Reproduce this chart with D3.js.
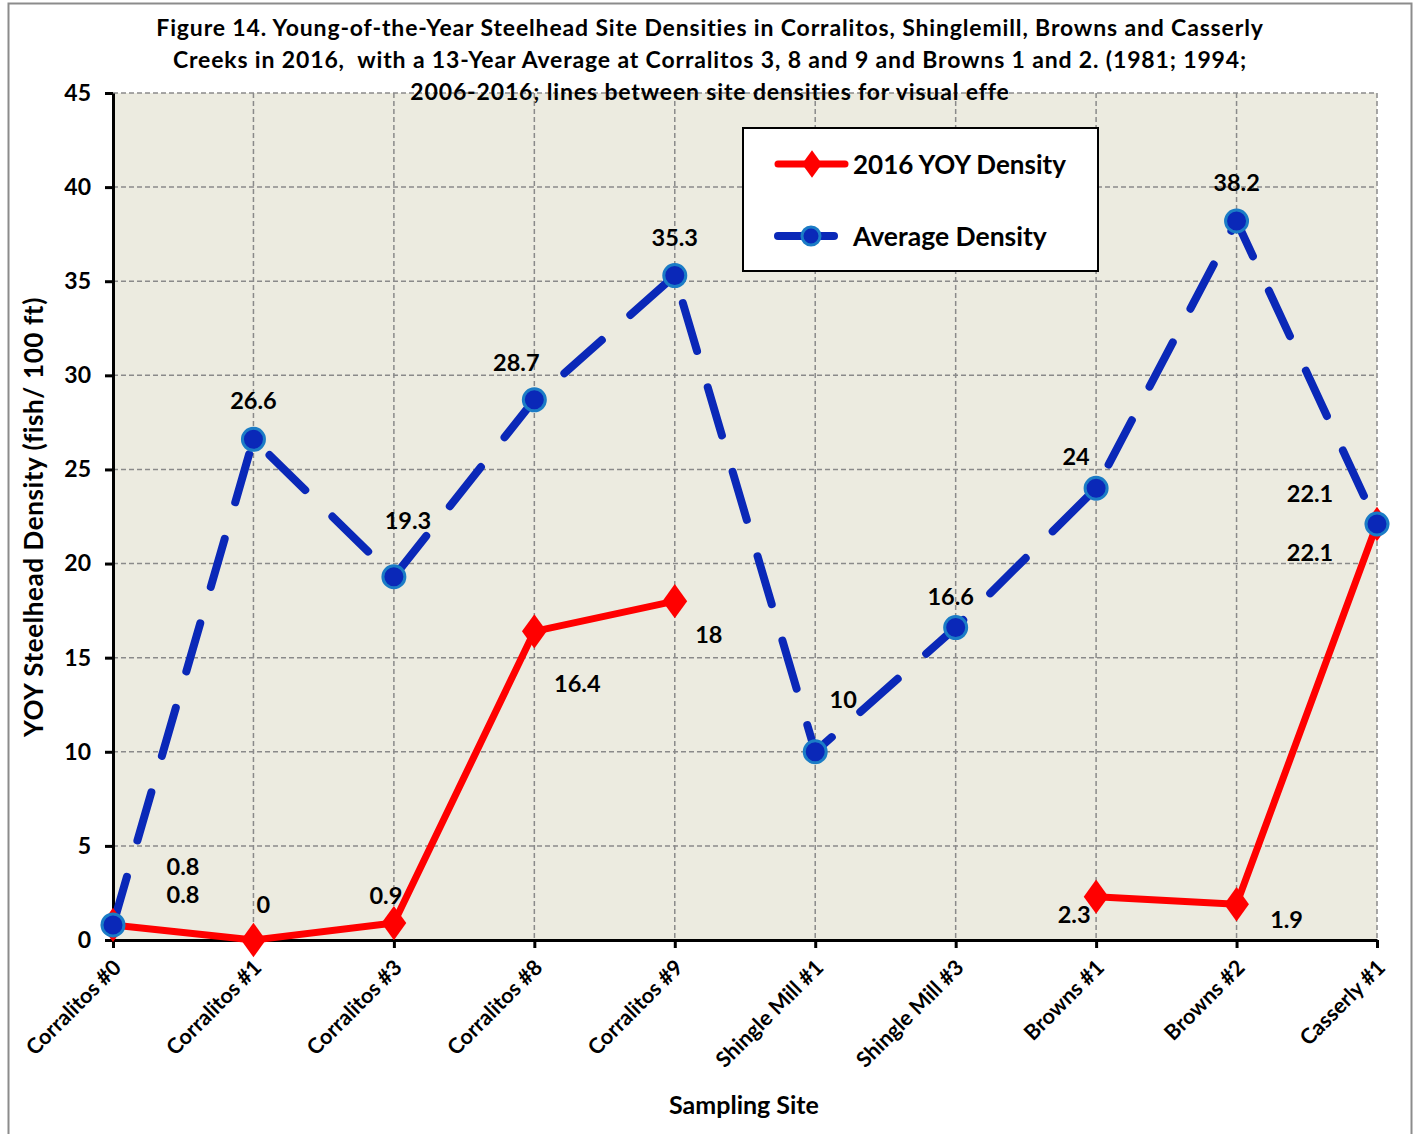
<!DOCTYPE html>
<html>
<head>
<meta charset="utf-8">
<script src="https://cdn.jsdelivr.net/npm/d3@7"></script>
<style>
  html, body { margin: 0; padding: 0; background: #fff; }
  svg { display: block; font-family: Lato, "Open Sans", "Noto Sans", sans-serif; font-weight: bold; }
</style>
</head>
<body>
<svg id="chart" width="1414" height="1134"></svg>
<script>
// Sampling sites along the x axis
const sites = ["Corralitos #0", "Corralitos #1", "Corralitos #3", "Corralitos #8", "Corralitos #9",
               "Shingle Mill #1", "Shingle Mill #3", "Browns #1", "Browns #2", "Casserly #1"];
// 2016 young-of-the-year density (no 2016 sample at the Shingle Mill sites)
const yoy2016 = [0.8, 0, 0.9, 16.4, 18, null, null, 2.3, 1.9, 22.1];
// Multi-year average density
const avgDensity = [0.8, 26.6, 19.3, 28.7, 35.3, 10, 16.6, 24, 38.2, 22.1];
const yTicks = [0, 5, 10, 15, 20, 25, 30, 35, 40, 45];

const titleLines = [
  "Figure 14. Young-of-the-Year Steelhead Site Densities in Corralitos, Shinglemill, Browns and Casserly",
  "Creeks in 2016,  with a 13-Year Average at Corralitos 3, 8 and 9 and Browns 1 and 2. (1981; 1994;",
  "2006-2016; lines between site densities for visual effe"
];

// Label placement offsets (dx, dy) relative to each point
const yoyLabelOffset = [[70, -31], [10, -36], [-8, -28], [43, 52], [34, 33], null, null, [-22, 17], [50, 15], [-67, 28]];
const avgLabelOffset = [[70, -59], [0, -39], [14, -57], [-18, -38], [0, -39], [28, -53], [-5, -32], [-20, -32], [0, -39], [-67, -31]];

const svg = d3.select("#chart");
const margin = { left: 113, right: 1377, top: 93, bottom: 940 };

// Outer frame
svg.append("rect").attr("x", 8.5).attr("y", 3.5).attr("width", 1403).attr("height", 1140)
  .attr("fill", "#fff").attr("stroke", "#8c8c8c").attr("stroke-width", 2);

const x = d3.scalePoint().domain(sites).range([margin.left, margin.right]).padding(0);
const y = d3.scaleLinear().domain([0, 45]).range([margin.bottom, margin.top]);

// Plot background
svg.append("rect").attr("x", margin.left).attr("y", margin.top)
  .attr("width", margin.right - margin.left).attr("height", margin.bottom - margin.top)
  .attr("fill", "#ecebe0");

// Gridlines
const grid = svg.append("g").attr("stroke", "#8a8a8a").attr("stroke-width", 1.5).attr("stroke-dasharray", "5,3");
grid.selectAll("line.h").data(yTicks.filter(d => d > 0)).join("line")
  .attr("x1", margin.left).attr("x2", margin.right)
  .attr("y1", d => y(d)).attr("y2", d => y(d));
grid.selectAll("line.v").data(sites.slice(1)).join("line")
  .attr("y1", margin.top).attr("y2", margin.bottom)
  .attr("x1", d => x(d)).attr("x2", d => x(d));

// Axes
const yAxis = d3.axisLeft(y).tickValues(yTicks).tickSizeOuter(0).tickSizeInner(8).tickPadding(14);
const gy = svg.append("g").attr("transform", `translate(${margin.left},0)`).call(yAxis);
gy.select(".domain").attr("stroke", "#000").attr("stroke-width", 3);
gy.selectAll(".tick line").attr("stroke", "#000").attr("stroke-width", 3);
gy.selectAll(".tick text").attr("font-size", 23).attr("font-family", "Lato, sans-serif").attr("font-weight", "bold").attr("fill", "#000");

const xAxis = d3.axisBottom(x).tickSizeOuter(0).tickSizeInner(8).tickPadding(8);
const gx = svg.append("g").attr("transform", `translate(0,${margin.bottom})`).call(xAxis);
gx.select(".domain").attr("stroke", "#000").attr("stroke-width", 3);
gx.selectAll(".tick line").attr("stroke", "#000").attr("stroke-width", 3);
gx.selectAll(".tick text")
  .attr("font-size", 21.5).attr("font-family", "Lato, sans-serif").attr("font-weight", "bold").attr("fill", "#000")
  .attr("text-anchor", "end").attr("dy", 0).attr("y", 0)
  .attr("transform", "translate(9,29) rotate(-45)");

// Lines
const lineGen = d3.line().defined(d => d.v != null).x(d => x(d.site)).y(d => y(d.v));
const yoyData = sites.map((s, i) => ({ site: s, v: yoy2016[i], i }));
const avgData = sites.map((s, i) => ({ site: s, v: avgDensity[i], i }));

svg.append("path").datum(avgData).attr("d", lineGen)
  .attr("fill", "none").attr("stroke", "#0a28b8").attr("stroke-width", 8)
  .attr("stroke-linecap", "round").attr("stroke-dasharray", "50,38");

svg.append("path").datum(yoyData).attr("d", lineGen)
  .attr("fill", "none").attr("stroke", "#ff0000").attr("stroke-width", 7)
  .attr("stroke-linejoin", "round");

// Markers
const diamond = d3.symbol().type(d3.symbolDiamond).size(340);
svg.append("g").selectAll("path").data(yoyData.filter(d => d.v != null)).join("path")
  .attr("d", diamond).attr("transform", d => `translate(${x(d.site)},${y(d.v)}) scale(1.25,1)`)
  .attr("fill", "#ff0000");

svg.append("g").selectAll("circle").data(avgData).join("circle")
  .attr("cx", d => x(d.site)).attr("cy", d => y(d.v)).attr("r", 11)
  .attr("fill", "#0a28b8").attr("stroke", "#1b7cc6").attr("stroke-width", 3);

// Data labels
const labels = svg.append("g").attr("font-size", 23.5).attr("fill", "#000").attr("text-anchor", "middle");
labels.selectAll("text.avg").data(avgData).join("text")
  .attr("x", d => x(d.site) + avgLabelOffset[d.i][0])
  .attr("y", d => y(d.v) + avgLabelOffset[d.i][1])
  .attr("dominant-baseline", "central")
  .text(d => d.v);
labels.selectAll("text.yoy").data(yoyData.filter(d => d.v != null)).join("text")
  .attr("x", d => x(d.site) + yoyLabelOffset[d.i][0])
  .attr("y", d => y(d.v) + yoyLabelOffset[d.i][1])
  .attr("dominant-baseline", "central")
  .text(d => d.v);

// Title
svg.append("g").selectAll("text").data(titleLines).join("text")
  .attr("x", 710).attr("y", (d, i) => 27 + i * 32)
  .attr("text-anchor", "middle").attr("dominant-baseline", "central")
  .attr("font-size", 23).attr("letter-spacing", 0.85).attr("fill", "#000")
  .attr("xml:space", "preserve").text(d => d);

// Axis titles
svg.append("text").attr("x", 744).attr("y", 1104).attr("text-anchor", "middle")
  .attr("dominant-baseline", "central").attr("font-size", 25).text("Sampling Site");
svg.append("text").attr("transform", "translate(33,517) rotate(-90)").attr("text-anchor", "middle")
  .attr("dominant-baseline", "central").attr("font-size", 26).attr("letter-spacing", 0.6)
  .text("YOY Steelhead Density (fish/ 100 ft)");

// Legend
const lg = svg.append("g");
lg.append("rect").attr("x", 743).attr("y", 128).attr("width", 355).attr("height", 143)
  .attr("fill", "#fff").attr("stroke", "#000").attr("stroke-width", 2);
lg.append("line").attr("x1", 778).attr("x2", 845).attr("y1", 164).attr("y2", 164)
  .attr("stroke", "#ff0000").attr("stroke-width", 7).attr("stroke-linecap", "round");
lg.append("path").attr("d", d3.symbol().type(d3.symbolDiamond).size(220)())
  .attr("transform", "translate(812,164) scale(1.25,1)").attr("fill", "#ff0000");
lg.append("text").attr("x", 853).attr("y", 164).attr("dominant-baseline", "central")
  .attr("font-size", 26).text("2016 YOY Density");
lg.append("line").attr("x1", 778).attr("x2", 834).attr("y1", 236).attr("y2", 236)
  .attr("stroke", "#0a28b8").attr("stroke-width", 8).attr("stroke-linecap", "round");
lg.append("circle").attr("cx", 811).attr("cy", 236).attr("r", 9)
  .attr("fill", "#0a28b8").attr("stroke", "#1b7cc6").attr("stroke-width", 3);
lg.append("text").attr("x", 853).attr("y", 236).attr("dominant-baseline", "central")
  .attr("font-size", 26.5).text("Average Density");
</script>
</body>
</html>
